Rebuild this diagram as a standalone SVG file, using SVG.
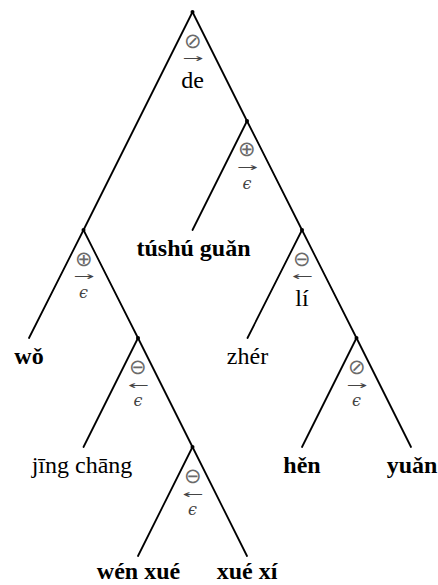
<svg xmlns="http://www.w3.org/2000/svg" width="438" height="585" viewBox="0 0 438 585">
<style>
.e{stroke:#000;stroke-width:1.8;stroke-linecap:round;fill:none}
.dot{fill:#000}
.sym{font-family:"DejaVu Sans",sans-serif;font-weight:200;font-size:21px;fill:#6a6a6a;text-anchor:middle}
.arr{font-family:"DejaVu Sans",sans-serif;font-size:11px;fill:#444;text-anchor:middle}
.eps{font-family:"DejaVu Serif",serif;font-style:italic;font-size:16px;fill:#444;text-anchor:middle}
.lab{font-family:"Liberation Serif",serif;font-size:24px;fill:#000;text-anchor:middle}
.leaf{font-family:"Liberation Serif",serif;font-size:24px;fill:#000;text-anchor:middle}
.b{font-weight:bold}
</style>
<rect width="438" height="585" fill="#fff"/>
<g id="connectors">
<line class="e" x1="192.5" y1="12" x2="83.5" y2="230"/>
<line class="e" x1="192.5" y1="12" x2="247" y2="121"/>
<line class="e" x1="247" y1="121" x2="192.5" y2="230"/>
<line class="e" x1="247" y1="121" x2="302" y2="230"/>
<line class="e" x1="302" y1="230" x2="247.5" y2="338"/>
<line class="e" x1="302" y1="230" x2="356.5" y2="338"/>
<line class="e" x1="356.5" y1="338" x2="302" y2="447"/>
<line class="e" x1="356.5" y1="338" x2="411" y2="447"/>
<line class="e" x1="83.5" y1="230" x2="29" y2="338"/>
<line class="e" x1="83.5" y1="230" x2="138" y2="338"/>
<line class="e" x1="138" y1="338" x2="83.5" y2="447"/>
<line class="e" x1="138" y1="338" x2="192.5" y2="447"/>
<line class="e" x1="192.5" y1="447" x2="138" y2="556"/>
<line class="e" x1="192.5" y1="447" x2="247" y2="556"/>
</g>
<g id="root">
<circle class="dot" cx="192.5" cy="12" r="2"/>
<text class="sym" x="192.5" y="48">⊘</text>
<text class="arr" x="192.5" y="61.5" textLength="21" lengthAdjust="spacingAndGlyphs">→</text>
<text class="lab" x="192.5" y="88">de</text>
</g>
<g id="nodeB">
<circle class="dot" cx="247" cy="121" r="2"/>
<text class="sym" x="247" y="156">⊕</text>
<text class="arr" x="247" y="171" textLength="21" lengthAdjust="spacingAndGlyphs">→</text>
<text class="eps" x="247" y="189">ϵ</text>
</g>
<g id="nodeC">
<circle class="dot" cx="302" cy="230" r="2"/>
<text class="sym" x="302" y="266">⊖</text>
<text class="arr" x="302" y="280" textLength="21" lengthAdjust="spacingAndGlyphs">←</text>
<text class="lab" x="302" y="306">lí</text>
</g>
<g id="nodeD">
<circle class="dot" cx="356.5" cy="338" r="2"/>
<text class="sym" x="356.5" y="374">⊘</text>
<text class="arr" x="356.5" y="389" textLength="21" lengthAdjust="spacingAndGlyphs">→</text>
<text class="eps" x="356.5" y="406">ϵ</text>
</g>
<g id="nodeA">
<circle class="dot" cx="83.5" cy="230" r="2"/>
<text class="sym" x="83.5" y="266">⊕</text>
<text class="arr" x="83.5" y="280" textLength="21" lengthAdjust="spacingAndGlyphs">→</text>
<text class="eps" x="83.5" y="298">ϵ</text>
</g>
<g id="nodeE">
<circle class="dot" cx="138" cy="338" r="2"/>
<text class="sym" x="138" y="374">⊖</text>
<text class="arr" x="138" y="389" textLength="21" lengthAdjust="spacingAndGlyphs">←</text>
<text class="eps" x="138" y="406">ϵ</text>
</g>
<g id="nodeF">
<circle class="dot" cx="192.5" cy="447" r="2"/>
<text class="sym" x="192.5" y="483">⊖</text>
<text class="arr" x="192.5" y="498" textLength="21" lengthAdjust="spacingAndGlyphs">←</text>
<text class="eps" x="192.5" y="515">ϵ</text>
</g>
<g id="leaf-tushu"><text class="leaf b" x="193.5" y="256">túshú guǎn</text></g>
<g id="leaf-zher"><text class="leaf" x="247.5" y="364">zhér</text></g>
<g id="leaf-hen"><text class="leaf b" x="302" y="473">hěn</text></g>
<g id="leaf-yuan"><text class="leaf b" x="412" y="473">yuǎn</text></g>
<g id="leaf-wo"><text class="leaf b" x="29" y="364">wǒ</text></g>
<g id="leaf-jingchang"><text class="leaf" x="82" y="473">jīng chāng</text></g>
<g id="leaf-wenxue"><text class="leaf b" x="138.5" y="579">wén xué</text></g>
<g id="leaf-xuexi"><text class="leaf b" x="247" y="579">xué xí</text></g>
</svg>
